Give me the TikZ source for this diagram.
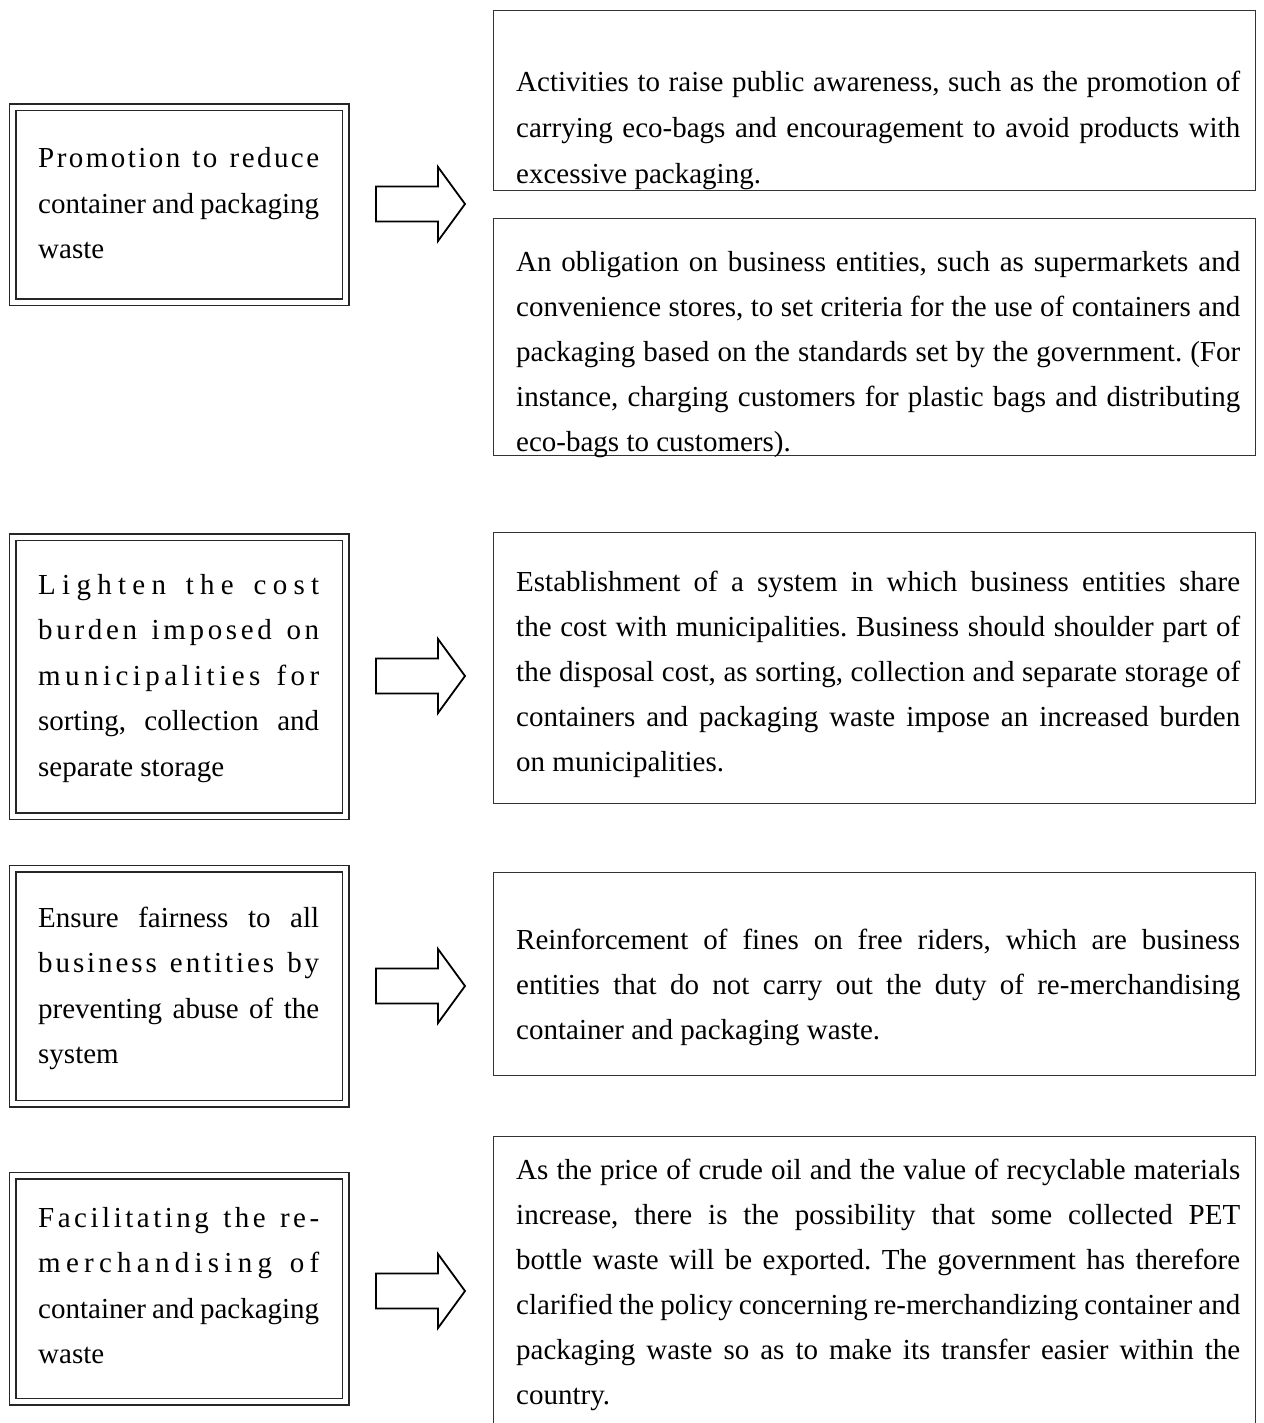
\documentclass[tikz,border=0pt]{standalone}
\usepackage{fontspec}
\setmainfont{Liberation Serif}
\frenchspacing
\makeatletter
\def\lsp@words#1 #2\@nil{\lsp@letters#1\@end\ifx\relax#2\relax\else\hfill\ \hfill\lsp@words#2\@nil\fi}
\def\lsp@letters#1#2\@end{#1\ifx\relax#2\relax\else\hfill\lsp@letters#2\@end\fi}
\newcommand\SLine[1]{\hbox to\hsize{\lsp@words#1 \@nil}}
\makeatother
\newcommand\JLine[1]{\hbox to\hsize{#1}}
\newcommand\LLine[1]{\hbox to\hsize{#1\hfil}}
\newcommand\LeftText[1]{\parbox[t]{281pt}{\fontsize{29}{45.5}\selectfont\frenchspacing\baselineskip=45.5pt\relax #1}}
\newcommand\RightText[2]{\parbox[t]{724pt}{\fontsize{29}{45.5}\selectfont\frenchspacing\baselineskip=#1\relax #2}}
\tikzset{
  leftbox/.style={draw=black!85, double, double distance=5pt, line width=1.6pt, inner sep=0pt, anchor=north west, minimum width=333pt},
  rightbox/.style={draw=black!80, line width=1.3pt, inner sep=0pt, anchor=north west, minimum width=762pt},
  txt/.style={anchor=base west, inner sep=0pt},
  barrow/.pic={\draw[line width=1.8pt, line join=miter] (0,-17.5) -- (62,-17.5) -- (62,-37) -- (89,0) -- (62,37) -- (62,17.5) -- (0,17.5) -- cycle;}
}
\begin{document}
\begin{tikzpicture}[x=1pt,y=-1pt]
\useasboundingbox (0,0) rectangle (1263,1423);
\clip (0,0) rectangle (1263,1423);
% left boxes
\node[leftbox, minimum height=195pt] (L1) at (12,106.5) {};
\node[leftbox, minimum height=279pt] (L2) at (12,536.5) {};
\node[leftbox, minimum height=235pt] (L3) at (12,868) {};
\node[leftbox, minimum height=226pt] (L4) at (12,1175) {};
% right boxes
\node[rightbox, minimum height=180pt] (R1) at (493,10) {};
\node[rightbox, minimum height=237pt] (R2) at (493,218) {};
\node[rightbox, minimum height=271pt] (R3) at (493,532) {};
\node[rightbox, minimum height=203pt] (R4) at (493,872) {};
\node[rightbox, minimum height=320pt] (R5) at (493,1136) {};
% arrows
\pic at (376,204) {barrow};
\pic at (376,676) {barrow};
\pic at (376,986) {barrow};
\pic at (376,1291) {barrow};
% left texts
\node[txt] (T1) at (38,168) {\LeftText{%
\SLine{Promotion to reduce}%
\JLine{container and packaging}%
\LLine{waste}}};
\node[txt] (T2) at (38,594) {\LeftText{%
\SLine{Lighten the cost}%
\SLine{burden imposed on}%
\SLine{municipalities for}%
\JLine{sorting, collection and}%
\LLine{separate storage}}};
\node[txt] (T3) at (38,927) {\LeftText{%
\JLine{Ensure fairness to all}%
\SLine{business entities by}%
\JLine{preventing abuse of the}%
\LLine{system}}};
\node[txt] (T4) at (38,1227) {\LeftText{%
\SLine{Facilitating the re-}%
\SLine{merchandising of}%
\JLine{container and packaging}%
\LLine{waste}}};
% right texts
\node[txt] (S1) at (516,92) {\RightText{46pt}{%
\JLine{Activities to raise public awareness, such as the promotion of}%
\JLine{carrying eco-bags and encouragement to avoid products with}%
\LLine{excessive packaging.}}};
\node[txt] (S2) at (516,271) {\RightText{45pt}{%
\JLine{An obligation on business entities, such as supermarkets and}%
\JLine{convenience stores, to set criteria for the use of containers and}%
\JLine{packaging based on the standards set by the government. (For}%
\JLine{instance, charging customers for plastic bags and distributing}%
\LLine{eco-bags to customers).}}};
\node[txt] (S3) at (516,591) {\RightText{45pt}{%
\JLine{Establishment of a system in which business entities share}%
\JLine{the cost with municipalities. Business should shoulder part of}%
\JLine{the disposal cost, as sorting, collection and separate storage of}%
\JLine{containers and packaging waste impose an increased burden}%
\LLine{on municipalities.}}};
\node[txt] (S4) at (516,949) {\RightText{45pt}{%
\JLine{Reinforcement of fines on free riders, which are business}%
\JLine{entities that do not carry out the duty of re-merchandising}%
\LLine{container and packaging waste.}}};
\node[txt] (S5) at (516,1179) {\RightText{45pt}{%
\JLine{As the price of crude oil and the value of recyclable materials}%
\JLine{increase, there is the possibility that some collected PET}%
\JLine{bottle waste will be exported. The government has therefore}%
\JLine{clarified the policy concerning re-merchandizing container and}%
\JLine{packaging waste so as to make its transfer easier within the}%
\LLine{country.}}};
\end{tikzpicture}
\end{document}
